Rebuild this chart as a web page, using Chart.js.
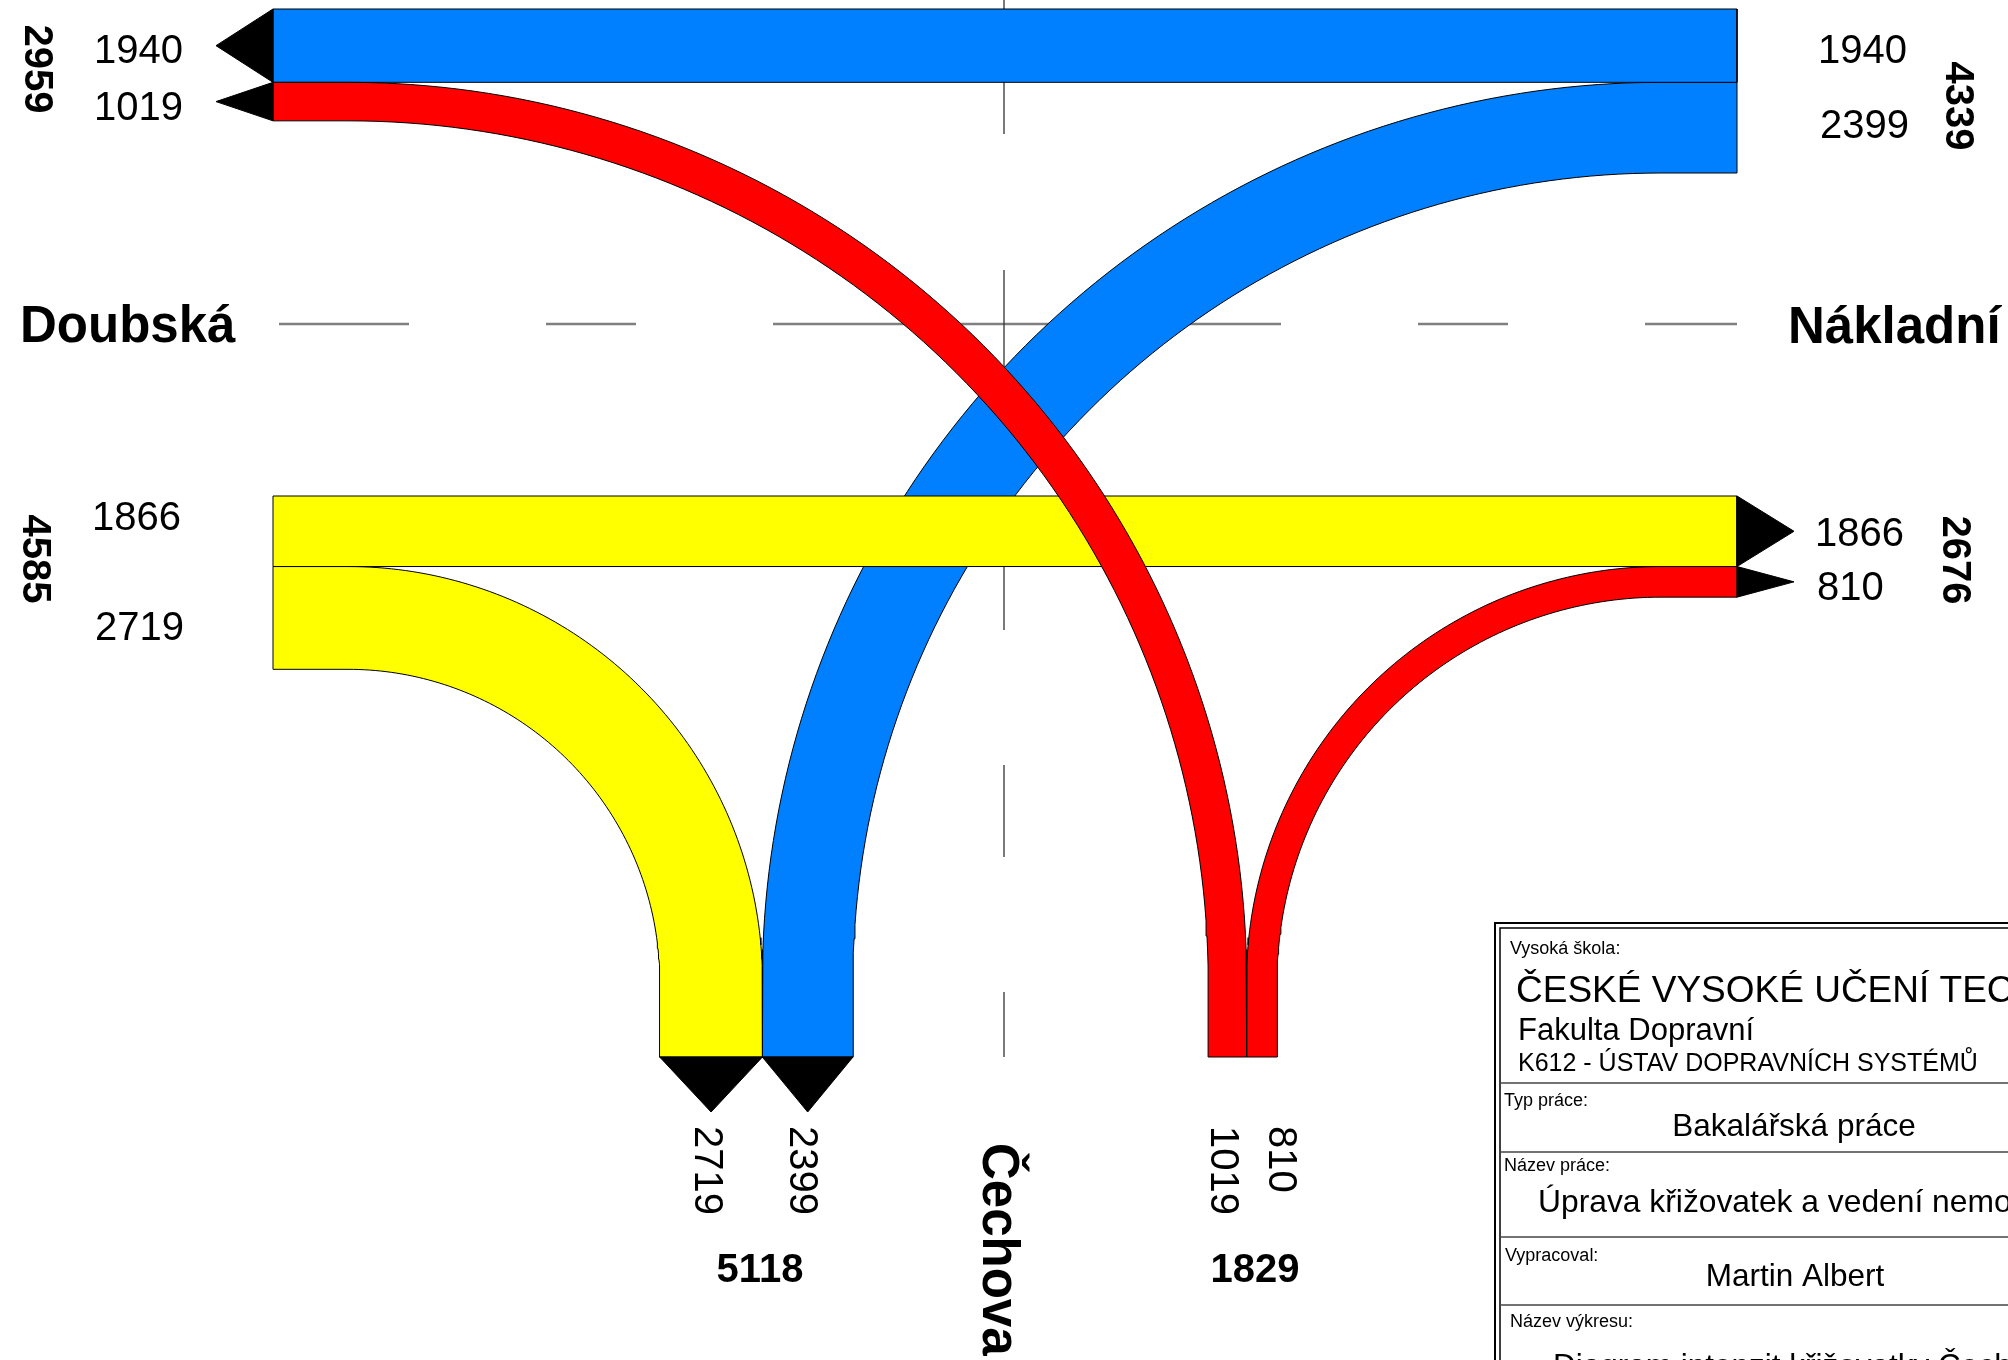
<!DOCTYPE html>
<html>
<head>
<meta charset="utf-8">
<title>Diagram intenzit křižovatky</title>
<script src="https://cdn.jsdelivr.net/npm/chart.js@4.4.0/dist/chart.umd.min.js"></script>
<style>
  html, body { margin: 0; padding: 0; background: #fff; overflow: hidden; }
  canvas { display: block; }
</style>
</head>
<body>
<canvas id="diagram" width="2008" height="1360"></canvas>
<script>
// intenzity dopravy podle směru (voz/den)
const streetNames = ['Doubská', 'Nákladní', 'Čechova'];
const fromNakladni = [1940, 2399];   // -> Doubská, -> Čechova
const fromDoubska = [1866, 2719];    // -> Nákladní, -> Čechova
const fromCechova = [1019, 810];     // -> Doubská, -> Nákladní

// rohové razítko výkresu
const stampCaptions = ['Vysoká škola:', 'Typ práce:', 'Název práce:', 'Vypracoval:', 'Název výkresu:'];
const stampSchool = ['ČESKÉ VYSOKÉ UČENÍ TECHNICKÉ V PRAZE', 'Fakulta Dopravní', 'K612 - ÚSTAV DOPRAVNÍCH SYSTÉMŮ'];
const stampValues = ['Bakalářská práce', 'Úprava křižovatek a vedení nemotorové dopravy', 'Martin Albert', 'Diagram intenzit křižovatky Čechova'];

// --- rozvržení výkresu (jednotky os = pixely výkresu) ---
const K = 0.0378;              // šířka pásu na 1 vozidlo
const WEST_X = 273, EAST_X = 1737, SOUTH_Y = 1057;
const TOP_Y = 9, LOW_Y = 496;
const CURVE_Y = 981, CURVE_WX = 348, CURVE_EX = 1661;
const ARROW = 57;
const AXIS_X = 1004, AXIS_Y = 324;
const FONT = '"Liberation Sans", Arial, sans-serif';

const BLUE = '#0080ff', RED = '#ff0000', YELLOW = '#ffff00';

function w(v) { return v * K; }

function straightBand(y0, v) {
    const y1 = y0 + w(v);
    return [{x: WEST_X, y: y0}, {x: EAST_X, y: y0}, {x: EAST_X, y: y1}, {x: WEST_X, y: y1}, {x: WEST_X, y: y0}];
}

// odbočovací pás: vodorovně od okraje, oblouk, svisle dolů
function turnBand(y0, v, side) {
    const cx = side < 0 ? CURVE_WX : CURVE_EX;
    const endX = side < 0 ? WEST_X : EAST_X;
    const dir = side < 0 ? 1 : -1;
    const ro = CURVE_Y - y0;
    const ri = ro - w(v);
    const pts = [{x: endX, y: y0}];
    for (let i = 0; i <= 90; i++) {
        const a = i / 90 * Math.PI / 2;
        pts.push({x: cx + dir * ro * Math.sin(a), y: CURVE_Y - ro * Math.cos(a)});
    }
    pts.push({x: cx + dir * ro, y: SOUTH_Y});
    pts.push({x: cx + dir * ri, y: SOUTH_Y});
    for (let i = 90; i >= 0; i--) {
        const a = i / 90 * Math.PI / 2;
        pts.push({x: cx + dir * ri * Math.sin(a), y: CURVE_Y - ri * Math.cos(a)});
    }
    pts.push({x: endX, y: y0 + w(v)});
    pts.push({x: endX, y: y0});
    return pts;
}

function arrowSide(x, y0, v, dir) {
    return [{x: x, y: y0}, {x: x + dir * ARROW, y: y0 + w(v) / 2}, {x: x, y: y0 + w(v)}, {x: x, y: y0}];
}

function arrowDown(x0, x1) {
    return [{x: x0, y: SOUTH_Y}, {x: (x0 + x1) / 2, y: SOUTH_Y + 55}, {x: x1, y: SOUTH_Y}, {x: x0, y: SOUTH_Y}];
}

const upperSplit = TOP_Y + w(fromNakladni[0]);
const lowerSplit = LOW_Y + w(fromDoubska[0]);
const yellowOuter = CURVE_WX + (CURVE_Y - lowerSplit);
const blueOuter = CURVE_EX - (CURVE_Y - upperSplit);

// pořadí od spodní vrstvy po horní
const shapes = [
    {data: turnBand(upperSplit, fromNakladni[1], 1), color: BLUE},
    {data: straightBand(TOP_Y, fromNakladni[0]), color: BLUE},
    {data: turnBand(lowerSplit, fromCechova[1], 1), color: RED},
    {data: turnBand(lowerSplit, fromDoubska[1], -1), color: YELLOW},
    {data: straightBand(LOW_Y, fromDoubska[0]), color: YELLOW},
    {data: turnBand(upperSplit, fromCechova[0], -1), color: RED},
    {data: arrowSide(WEST_X, TOP_Y, fromNakladni[0], -1), color: '#000'},
    {data: arrowSide(WEST_X, upperSplit, fromCechova[0], -1), color: '#000'},
    {data: arrowSide(EAST_X, LOW_Y, fromDoubska[0], 1), color: '#000'},
    {data: arrowSide(EAST_X, lowerSplit, fromCechova[1], 1), color: '#000'},
    {data: arrowDown(yellowOuter - w(fromDoubska[1]), yellowOuter), color: '#000'},
    {data: arrowDown(blueOuter, blueOuter + w(fromNakladni[1])), color: '#000'}
];

const datasets = shapes.map((s, i) => ({
    data: s.data,
    backgroundColor: s.color,
    borderColor: '#000',
    borderWidth: 1,
    pointRadius: 0,
    pointHoverRadius: 0,
    tension: 0,
    fill: 'shape',
    order: shapes.length - i
}));

function sum(a, b) { return a + b; }

const labelPlugin = {
    id: 'popisky',
    beforeDatasetsDraw(chart) {
        const ctx = chart.ctx;
        const px = v => chart.scales.x.getPixelForValue(v);
        const py = v => chart.scales.y.getPixelForValue(v);
        ctx.save();
        // osa Doubská - Nákladní
        ctx.strokeStyle = '#808080';
        ctx.lineWidth = 2.5;
        ctx.setLineDash([508, 137, 90, 137]);
        ctx.lineDashOffset = 378;
        ctx.beginPath();
        ctx.moveTo(px(WEST_X + 6), py(AXIS_Y));
        ctx.lineTo(px(EAST_X), py(AXIS_Y));
        ctx.stroke();
        // osa Čechova
        ctx.strokeStyle = '#333';
        ctx.lineWidth = 1.3;
        ctx.setLineDash([134, 136, 360, 135, 92, 135, 200]);
        ctx.lineDashOffset = 0;
        ctx.beginPath();
        ctx.moveTo(px(AXIS_X), py(0));
        ctx.lineTo(px(AXIS_X), py(SOUTH_Y));
        ctx.stroke();
        ctx.restore();
    },
    afterDatasetsDraw(chart) {
        const ctx = chart.ctx;
        const px = v => chart.scales.x.getPixelForValue(v);
        const py = v => chart.scales.y.getPixelForValue(v);
        ctx.save();
        ctx.fillStyle = '#000';

        function txt(s, x, y, size, bold, align) {
            ctx.font = (bold ? 'bold ' : '') + size + 'px ' + FONT;
            ctx.textAlign = align || 'left';
            ctx.textBaseline = 'alphabetic';
            ctx.fillText(s, px(x), py(y));
        }
        function vtxt(s, x, y, size, bold, align) {
            ctx.save();
            ctx.translate(px(x), py(y));
            ctx.rotate(Math.PI / 2);
            ctx.font = (bold ? 'bold ' : '') + size + 'px ' + FONT;
            ctx.textAlign = align || 'left';
            ctx.textBaseline = 'alphabetic';
            ctx.fillText(s, 0, 0);
            ctx.restore();
        }

        // Doubská
        txt(String(fromNakladni[0]), 94, 63, 40);
        txt(String(fromCechova[0]), 94, 120, 40);
        vtxt(String(fromNakladni[0] + fromCechova[0]), 25, 69, 40, true, 'center');
        txt(String(fromDoubska[0]), 92, 530, 40);
        txt(String(fromDoubska[1]), 95, 640, 40);
        vtxt(String(fromDoubska.reduce(sum, 0)), 23, 559, 40, true, 'center');
        txt(streetNames[0], 20, 342, 51, true);

        // Nákladní
        txt(String(fromNakladni[0]), 1818, 63, 40);
        txt(String(fromNakladni[1]), 1820, 138, 40);
        vtxt(String(fromNakladni.reduce(sum, 0)), 1946, 106, 40, true, 'center');
        txt(String(fromDoubska[0]), 1815, 546, 40);
        txt(String(fromCechova[1]), 1817, 600, 40);
        vtxt(String(fromDoubska[0] + fromCechova[1]), 1943, 560, 40, true, 'center');
        txt(streetNames[1], 1788, 343, 51, true);

        // Čechova
        vtxt(String(fromDoubska[1]), 695, 1126, 40);
        vtxt(String(fromNakladni[1]), 790, 1126, 40);
        vtxt(String(fromCechova[0]), 1211, 1126, 40);
        vtxt(String(fromCechova[1]), 1269, 1126, 40);
        txt(String(fromDoubska[1] + fromNakladni[1]), 760, 1282, 40, true, 'center');
        txt(String(fromCechova.reduce(sum, 0)), 1255, 1282, 40, true, 'center');
        vtxt(streetNames[2], 983, 1143, 51, true);

        // razítko
        ctx.strokeStyle = '#000';
        ctx.lineWidth = 2;
        ctx.strokeRect(px(1495), py(923), px(2100) - px(1495), py(1500) - py(923));
        ctx.lineWidth = 1.5;
        ctx.strokeRect(px(1500), py(928), px(2100) - px(1500), py(1500) - py(928));
        ctx.strokeStyle = '#444';
        ctx.lineWidth = 1.5;
        [1083, 1152, 1237, 1305].forEach(y => {
            ctx.beginPath();
            ctx.moveTo(px(1500), py(y));
            ctx.lineTo(px(2008), py(y));
            ctx.stroke();
        });
        txt(stampCaptions[0], 1510, 954, 18);
        txt(stampSchool[0], 1516, 1002, 37);
        txt(stampSchool[1], 1518, 1040, 31);
        txt(stampSchool[2], 1518, 1071, 25);
        txt(stampCaptions[1], 1504, 1106, 18);
        txt(stampValues[0], 1794, 1136, 31.5, false, 'center');
        txt(stampCaptions[2], 1504, 1171, 18);
        txt(stampValues[1], 1538, 1212, 31.8);
        txt(stampCaptions[3], 1505, 1261, 18);
        txt(stampValues[2], 1795, 1286, 31.5, false, 'center');
        txt(stampCaptions[4], 1510, 1327, 18);
        txt(stampValues[3], 1553, 1376, 31.5);
        ctx.restore();
    }
};

new Chart(document.getElementById('diagram').getContext('2d'), {
    type: 'line',
    data: {datasets: datasets},
    options: {
        responsive: false,
        maintainAspectRatio: false,
        devicePixelRatio: 1,
        animation: false,
        events: [],
        layout: {padding: 0},
        scales: {
            x: {type: 'linear', min: 0, max: 2008, display: false},
            y: {type: 'linear', min: 0, max: 1360, reverse: true, display: false}
        },
        plugins: {
            legend: {display: false},
            tooltip: {enabled: false}
        }
    },
    plugins: [labelPlugin]
});
</script>
</body>
</html>
